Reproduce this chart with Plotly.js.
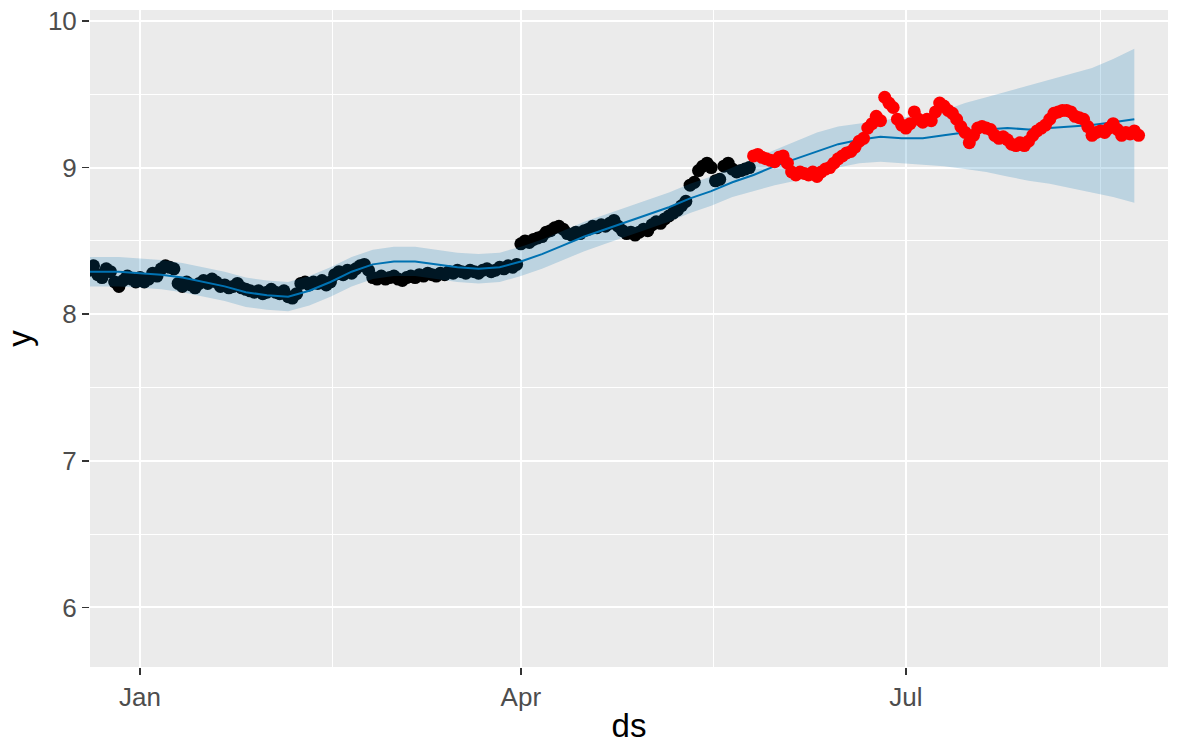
<!DOCTYPE html>
<html>
<head>
<meta charset="utf-8">
<script src="https://cdn.plot.ly/plotly-3.0.1.min.js"></script>
<style>
  html, body { margin: 0; padding: 0; background: #ffffff; }
  #chart { width: 1184px; height: 744px; }
</style>
</head>
<body>
<div id="chart"></div>
<script>
// Observed series (daily), first day 2016-12-20
const historyStart = '2016-12-20';
const historyY = [
  8.30, 8.33, 8.27, 8.25, 8.31, 8.29, 8.22, 8.19, 8.23, 8.26, 8.24, 8.22,
  8.25, 8.22, 8.24, 8.28, 8.26, 8.31, 8.33, 8.32, 8.31, 8.21,
  8.19, 8.22, 8.20, 8.18, 8.21, 8.23, 8.21, 8.24, 8.22, 8.19,
  8.20, 8.18, 8.19, 8.21, 8.18, 8.17, 8.16, 8.15, 8.16, 8.14,
  8.15, 8.17, 8.15, 8.14, 8.16, 8.12, 8.11, 8.14, 8.21, 8.22,
  8.20, 8.22, 8.21, 8.23, 8.20, 8.22, 8.27, 8.29, 8.27, 8.30,
  8.28, 8.31, 8.33, 8.34, 8.30, 8.25, 8.24, 8.26, 8.24, 8.25,
  8.26, 8.24, 8.23, 8.25, 8.26, 8.25, 8.27, 8.26, 8.28, 8.27,
  8.26, 8.28, 8.27, 8.29, 8.28, 8.30, 8.29, 8.28, 8.30, 8.29,
  8.28, 8.30, 8.31, 8.29, 8.30, 8.32, 8.31, 8.33, 8.32, 8.34,
  8.48, 8.50, 8.49, 8.51, 8.52, 8.53, 8.56, 8.57, 8.59, 8.60,
  8.58, 8.55, 8.54, 8.56, 8.55, 8.57, 8.58, 8.60, 8.59, 8.61,
  8.60, 8.62, 8.64, 8.60, 8.57, 8.55, 8.56, 8.54, 8.56, 8.58,
  8.57, 8.61, 8.63, 8.62, 8.65, 8.67, 8.69, 8.71, 8.74, 8.77,
  8.88, 8.90, 8.98, 9.01, 9.03, 9.00, 8.91, 8.92, 9.01, 9.03,
  8.99, 8.97, 8.98, 8.99, 9.00
];

// Held-out series (daily), first day 2017-05-26
const testStart = '2017-05-26';
const testY = [
  9.08, 9.09, 9.07, 9.06, 9.05, 9.04, 9.07, 9.08, 9.03, 8.97,
  8.95, 8.97, 8.96, 8.95, 8.97, 8.94, 8.97, 8.99, 9.00, 9.03,
  9.06, 9.08, 9.10, 9.11, 9.14, 9.18, 9.20, 9.27, 9.30, 9.35,
  9.32, 9.48, 9.44, 9.41, 9.33, 9.29, 9.27, 9.30, 9.38, 9.33,
  9.31, 9.33, 9.32, 9.38, 9.44, 9.42, 9.39, 9.37, 9.33, 9.28,
  9.24, 9.17, 9.22, 9.27, 9.28, 9.27, 9.26, 9.22, 9.20, 9.21,
  9.19, 9.16, 9.15, 9.17, 9.15, 9.18, 9.22, 9.25, 9.27, 9.29,
  9.33, 9.37, 9.38, 9.39, 9.39, 9.38, 9.35, 9.34, 9.33, 9.28,
  9.22, 9.24, 9.25, 9.24, 9.27, 9.30, 9.26, 9.22, 9.24, 9.23,
  9.25, 9.22
];

// Model fit and forecast with its uncertainty interval
const fcDates = [
  '2016-12-20', '2016-12-27', '2017-01-01', '2017-01-06', '2017-01-11', '2017-01-16',
  '2017-01-21', '2017-01-26', '2017-01-31', '2017-02-05', '2017-02-10', '2017-02-15',
  '2017-02-20', '2017-02-25', '2017-03-02', '2017-03-07', '2017-03-12', '2017-03-17',
  '2017-03-22', '2017-03-27', '2017-04-01', '2017-04-06', '2017-04-11', '2017-04-16',
  '2017-04-21', '2017-04-26', '2017-05-01', '2017-05-06', '2017-05-11', '2017-05-16',
  '2017-05-21', '2017-05-26', '2017-05-31', '2017-06-05', '2017-06-10', '2017-06-15',
  '2017-06-20', '2017-06-25', '2017-06-30', '2017-07-05', '2017-07-10', '2017-07-15',
  '2017-07-20', '2017-07-25', '2017-07-30', '2017-08-04', '2017-08-09', '2017-08-14',
  '2017-08-19', '2017-08-24'
];
const fcYhat = [
  8.29, 8.29, 8.28, 8.27, 8.25, 8.22,
  8.19, 8.15, 8.13, 8.12, 8.16, 8.22,
  8.29, 8.34, 8.36, 8.36, 8.34, 8.32,
  8.31, 8.32, 8.36, 8.41, 8.47, 8.53,
  8.58, 8.63, 8.68, 8.73, 8.79, 8.84,
  8.90, 8.95, 9.01, 9.06, 9.11, 9.16,
  9.19, 9.21, 9.20, 9.20, 9.22, 9.24,
  9.26, 9.27, 9.26, 9.27, 9.28, 9.29,
  9.31, 9.33
];
const fcLower = [
  8.19, 8.19, 8.18, 8.17, 8.15, 8.12,
  8.09, 8.05, 8.03, 8.02, 8.06, 8.12,
  8.19, 8.24, 8.26, 8.26, 8.24, 8.22,
  8.21, 8.22, 8.26, 8.31, 8.37, 8.43,
  8.48, 8.53, 8.58, 8.63, 8.69, 8.74,
  8.80, 8.84, 8.88, 8.91, 8.96, 9.00,
  9.03, 9.04, 9.03, 9.02, 9.01, 8.99,
  8.97, 8.94, 8.91, 8.89, 8.86, 8.83,
  8.80, 8.76
];
const fcUpper = [
  8.39, 8.39, 8.38, 8.37, 8.35, 8.32,
  8.29, 8.25, 8.23, 8.22, 8.26, 8.32,
  8.39, 8.44, 8.46, 8.46, 8.44, 8.42,
  8.41, 8.42, 8.46, 8.51, 8.57, 8.63,
  8.68, 8.73, 8.78, 8.83, 8.89, 8.94,
  9.00, 9.06, 9.12, 9.18, 9.24, 9.28,
  9.30, 9.32, 9.34, 9.36, 9.39, 9.44,
  9.48, 9.52, 9.56, 9.60, 9.64, 9.68,
  9.74, 9.81
];

// Axis breaks
const xTickDates = ['2017-01-01', '2017-04-01', '2017-07-01'];
const xTickLabels = ['Jan', 'Apr', 'Jul'];
const xMinorDates = ['2017-02-15 12:00', '2017-05-16 12:00', '2017-08-16'];
const yTicks = [6, 7, 8, 9, 10];
const yMinor = [6.5, 7.5, 8.5, 9.5];

// Consecutive calendar days starting from an ISO date
function dailyDates(start, n) {
  const [y, m, d] = start.split('-').map(Number);
  const out = [];
  for (let i = 0; i < n; i++) {
    out.push(new Date(Date.UTC(y, m - 1, d + i)).toISOString().slice(0, 10));
  }
  return out;
}

const FONT = 'Liberation Sans, Arial, Helvetica, sans-serif';
const BLUE = '#0072B2';

const traces = [
  {
    x: dailyDates(historyStart, historyY.length), y: historyY,
    type: 'scatter', mode: 'markers',
    marker: { color: '#000000', size: 13 },
    hoverinfo: 'skip'
  },
  {
    x: fcDates, y: fcYhat,
    type: 'scatter', mode: 'lines',
    line: { color: BLUE, width: 2 },
    hoverinfo: 'skip'
  },
  {
    x: fcDates, y: fcLower,
    type: 'scatter', mode: 'lines',
    line: { width: 0, color: 'rgba(0,0,0,0)' },
    hoverinfo: 'skip'
  },
  {
    x: fcDates, y: fcUpper,
    type: 'scatter', mode: 'lines',
    line: { width: 0, color: 'rgba(0,0,0,0)' },
    fill: 'tonexty', fillcolor: 'rgba(0,114,178,0.2)',
    hoverinfo: 'skip'
  },
  {
    x: dailyDates(testStart, testY.length), y: testY,
    type: 'scatter', mode: 'markers',
    marker: { color: '#FF0000', size: 13 },
    hoverinfo: 'skip'
  }
];

const layout = {
  width: 1184, height: 744,
  margin: { l: 90, r: 16, t: 10, b: 77 },
  paper_bgcolor: '#ffffff',
  plot_bgcolor: '#EBEBEB',
  showlegend: false,
  font: { family: FONT },
  xaxis: {
    type: 'date',
    range: ['2016-12-20 04:00', '2017-08-31 23:00'],
    tickmode: 'array', tickvals: xTickDates, ticktext: xTickLabels,
    ticks: 'outside', ticklen: 7, tickwidth: 1.5, tickcolor: '#333333',
    tickfont: { size: 26, color: '#4D4D4D', family: FONT },
    showgrid: true, gridcolor: '#FFFFFF', gridwidth: 2,
    minor: { tickmode: 'array', tickvals: xMinorDates, showgrid: true, gridcolor: '#FFFFFF', gridwidth: 1, ticks: '' },
    zeroline: false, showline: false,
    title: { text: 'ds', font: { size: 33, color: '#000000', family: FONT }, standoff: 6 }
  },
  yaxis: {
    range: [5.594, 10.075],
    tickmode: 'array', tickvals: yTicks, ticktext: yTicks.map(String),
    ticks: 'outside', ticklen: 7, tickwidth: 1.5, tickcolor: '#333333',
    tickfont: { size: 26, color: '#4D4D4D', family: FONT },
    showgrid: true, gridcolor: '#FFFFFF', gridwidth: 2,
    minor: { tickmode: 'array', tickvals: yMinor, showgrid: true, gridcolor: '#FFFFFF', gridwidth: 1, ticks: '' },
    zeroline: false, showline: false,
    title: { text: 'y', font: { size: 33, color: '#000000', family: FONT }, standoff: 6 }
  }
};

Plotly.newPlot('chart', traces, layout, { displayModeBar: false, staticPlot: true });
</script>
</body>
</html>
